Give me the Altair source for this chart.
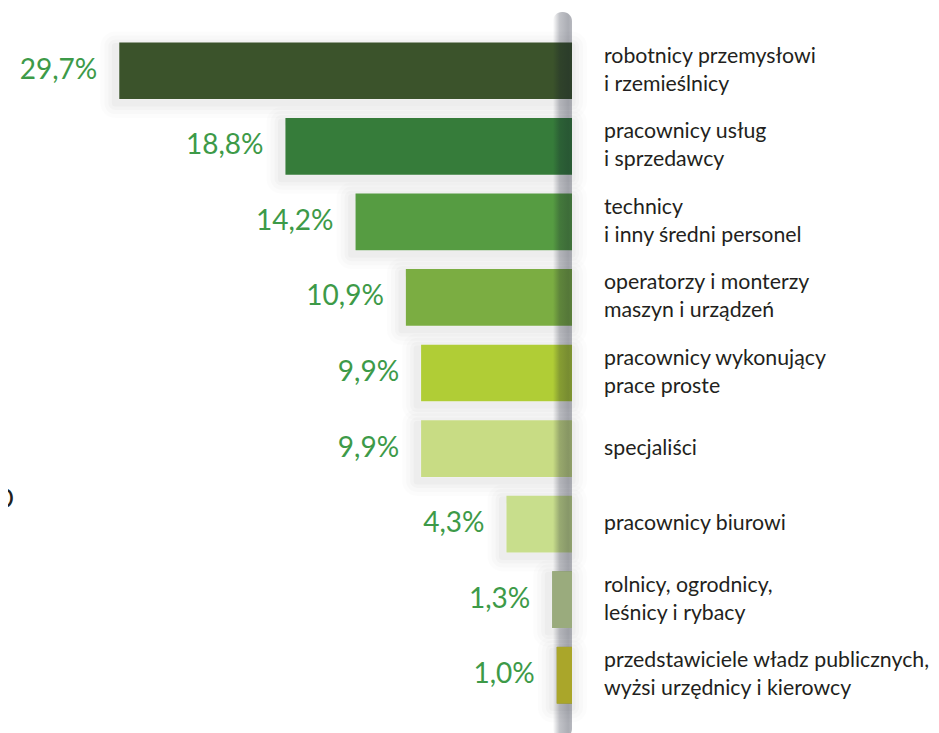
import altair as alt
import pandas as pd

categories = [
    "robotnicy przemysłowi\ni rzemieślnicy",
    "pracownicy usług\ni sprzedawcy",
    "technicy\ni inny średni personel",
    "operatorzy i monterzy\nmaszyn i urządzeń",
    "pracownicy wykonujący\nprace proste",
    "specjaliści",
    "pracownicy biurowi",
    "rolnicy, ogrodnicy,\nleśnicy i rybacy",
    "przedstawiciele władz publicznych,\nwyżsi urzędnicy i kierowcy",
]
values = [29.7, 18.8, 14.2, 10.9, 9.9, 9.9, 4.3, 1.3, 1.0]
labels = ["29,7%", "18,8%", "14,2%", "10,9%", "9,9%", "9,9%", "4,3%", "1,3%", "1,0%"]
colors = ["#3b532b", "#367c3a", "#569c42", "#7bad42", "#b0cd36",
          "#c8dc84", "#c8de8c", "#9aab7d", "#aaa62a"]
order = list(range(len(values)))

lines = [c.split("\n") for c in categories]
df = pd.DataFrame({
    "cat": categories, "value": values, "label": labels,
    "color": colors, "order": order,
    "line1": [l[0] for l in lines],
    "line2": [l[1] if len(l) > 1 else "" for l in lines],
    "nlines": [len(l) for l in lines],
})

xscale = alt.Scale(domain=[0, 37], reverse=True)
yscale = alt.Scale(paddingInner=0.25, paddingOuter=0.125)

X = alt.X("value:Q", scale=xscale, axis=None)
Y = alt.Y("order:O", scale=yscale, axis=None)

base = alt.Chart(df)

shadows = []
for w, o in [(30, 0.012), (22, 0.016), (14, 0.02), (7, 0.024)]:
    shadows.append(
        base.mark_bar(fill="#000000", fillOpacity=0, stroke="#000000",
                      strokeOpacity=o, strokeWidth=w, strokeJoin="round",
                      xOffset=-4, yOffset=4)
        .encode(x=X, x2=alt.X2(datum=0), y=Y)
    )

bars = base.mark_bar().encode(
    x=X, x2=alt.X2(datum=0), y=Y,
    color=alt.Color("color:N", scale=None),
)

band = alt.Chart(pd.DataFrame({"a": [0], "b": [1.25]})).mark_rect(
    cornerRadius=9,
    color=alt.Gradient(
        gradient="linear", x1=0, x2=1, y1=0, y2=0,
        stops=[
            alt.GradientStop(color="rgba(15,20,40,0)", offset=0),
            alt.GradientStop(color="rgba(15,20,40,0.26)", offset=0.35),
            alt.GradientStop(color="rgba(15,20,40,0.35)", offset=0.8),
            alt.GradientStop(color="rgba(15,20,40,0.30)", offset=1),
        ],
    ),
).encode(
    x=alt.X("a:Q", scale=xscale, axis=None),
    x2="b:Q",
    y=alt.value(-21),
    y2=alt.value(705),
)

top_bars = base.transform_filter(alt.datum.order >= 7).mark_bar().encode(
    x=X, x2=alt.X2(datum=0), y=Y,
    color=alt.Color("color:N", scale=None),
)

pct = base.mark_text(align="right", baseline="middle", dx=-22,
                     font="Lato", fontSize=28, color="#3d9a48").encode(
    x=X, y=Y, text="label:N")

txt = dict(align="left", baseline="middle", dx=32, font="Lato",
           fontSize=21.3, color="#231f20")
XC = alt.X(datum=0, scale=xscale)

cat_single = base.transform_filter(alt.datum.nlines == 1).mark_text(**txt).encode(
    x=XC, y=Y, text="line1:N")
cat_l1 = base.transform_filter(alt.datum.nlines == 2).mark_text(dy=-14, **txt).encode(
    x=XC, y=Y, text="line1:N")
cat_l2 = base.transform_filter(alt.datum.nlines == 2).mark_text(dy=14, **txt).encode(
    x=XC, y=Y, text="line2:N")

frag = alt.Chart(pd.DataFrame({"t": ["O"]})).mark_text(
    align="right", baseline="middle", font="Lato", fontSize=26, color="#231f20"
).encode(x=alt.value(6), y=alt.value(467), text="t:N")

chart = alt.layer(*shadows, bars, band, top_bars, pct,
                  cat_single, cat_l1, cat_l2, frag).properties(
    width=564, height=680,
    autosize="none",
    padding={"left": 0, "top": 25, "right": 359, "bottom": 20},
    background="#ffffff",
).configure_view(stroke=None)

chart.save("out.html", embed_options={"renderer": "svg", "actions": False})
